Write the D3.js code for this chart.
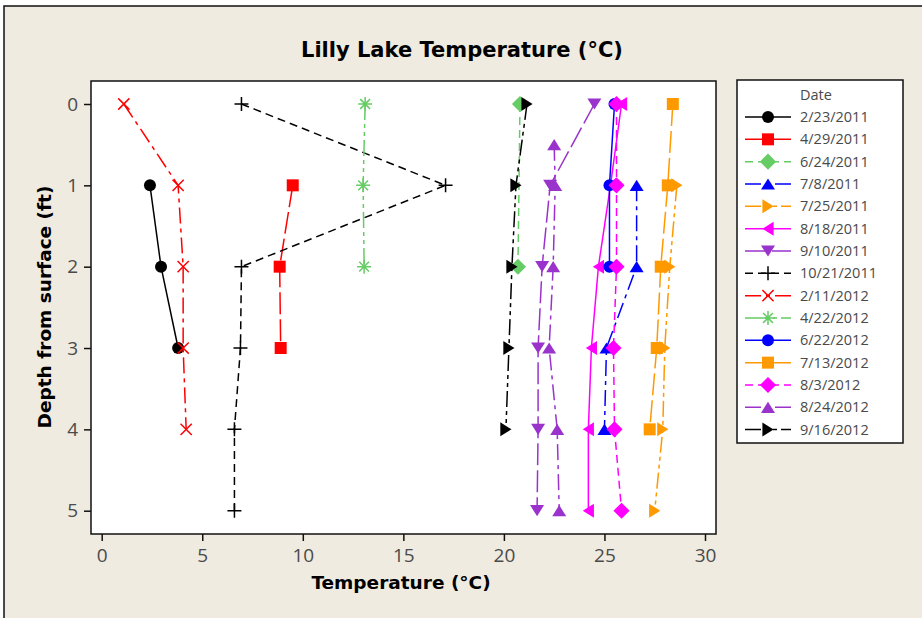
<!DOCTYPE html>
<html>
<head>
<meta charset="utf-8">
<script src="https://cdn.jsdelivr.net/npm/d3@7"></script>
<style>
  body { margin: 0; background: #fff; }
  text { font-family: "Open Sans", sans-serif; }
  .bold { font-family: "DejaVu Sans", Verdana, sans-serif; font-weight: bold; fill: #000; }
</style>
</head>
<body>
<div id="chart"></div>
<script>
// depth levels (ft) shared by all series; null = no reading
var depthLevels = [0, 0.5, 1, 2, 3, 4, 5];

var dates = ['2/23/2011', '4/29/2011', '6/24/2011', '7/8/2011', '7/25/2011',
  '8/18/2011', '9/10/2011', '10/21/2011', '2/11/2012', '4/22/2012',
  '6/22/2012', '7/13/2012', '8/3/2012', '8/24/2012', '9/16/2012'];

var t20110223 = [null, null, 2.4, 2.95, 3.8, null, null];
var t20110429 = [null, null, 9.5, 8.85, 8.9, null, null];
var t20110624 = [20.8, null, null, 20.7, null, null, null];
var t20110708 = [null, null, 26.6, 26.6, 25.1, 25.0, null];
var t20110725 = [null, null, 28.6, 28.25, 28.0, 27.9, 27.5];
var t20110818 = [25.85, null, 25.3, 24.7, 24.35, 24.2, 24.2];
var t20110910 = [24.5, null, 22.3, 21.9, 21.7, 21.7, 21.65];
var t20111021 = [6.95, null, 17.1, 6.95, 6.9, 6.6, 6.6];
var t20120211 = [1.1, null, 3.8, 4.05, 4.05, 4.2, null];
var t20120422 = [13.1, null, 13.0, 13.05, null, null, null];
var t20120622 = [25.5, null, 25.25, 25.25, null, null, null];
var t20120713 = [28.4, null, 28.15, 27.8, 27.6, 27.25, null];
var t20120803 = [25.6, null, 25.6, 25.6, 25.45, 25.5, 25.85];
var t20120824 = [null, 22.5, 22.55, 22.45, 22.25, 22.65, 22.75];
var t20120916 = [21.15, null, 20.6, 20.4, 20.25, 20.1, null];

var xTicks = [0, 5, 10, 15, 20, 25, 30];
var yTicks = [0, 1, 2, 3, 4, 5];

var temps = [t20110223, t20110429, t20110624, t20110708, t20110725,
  t20110818, t20110910, t20111021, t20120211, t20120422,
  t20120622, t20120713, t20120803, t20120824, t20120916];

// styles
var colors = ['#000000', '#ff0000', '#66cc66', '#0000ff', '#ff9900', '#ff00ff', '#9933cc'];
var symbols = ['circle', 'square', 'diamond', 'triUp', 'triRight', 'triLeft', 'triDown', 'plus', 'x', 'asterisk'];
var dashes = [null, '22,5', '8,5', '16,5,4,5', '16,4,4,4,4,4'];

var width = 922, height = 618;
var plot = { left: 91, top: 81, right: 716, bottom: 534 };

var svg = d3.select('#chart')
  .append('svg')
  .attr('width', width)
  .attr('height', height);

svg.append('rect')
  .attr('x', 4).attr('y', 6)
  .attr('width', width + 10).attr('height', height + 10)
  .attr('fill', '#efebe1')
  .attr('stroke', '#111')
  .attr('stroke-width', 1.5);

var x = d3.scaleLinear().domain([0, 30]).range([101.7, 705]);
var y = d3.scaleLinear().domain([0, 5]).range([104, 510.7]);

svg.append('rect')
  .attr('x', plot.left).attr('y', plot.top)
  .attr('width', plot.right - plot.left).attr('height', plot.bottom - plot.top)
  .attr('fill', '#fff')
  .attr('stroke', '#111')
  .attr('stroke-width', 1.5);

var xAxis = svg.append('g')
  .attr('transform', 'translate(0,' + plot.bottom + ')')
  .call(d3.axisBottom(x).tickValues(xTicks).tickFormat(d3.format('d')).tickSize(7).tickPadding(8));
var yAxis = svg.append('g')
  .attr('transform', 'translate(' + plot.left + ',0)')
  .call(d3.axisLeft(y).tickValues(yTicks).tickFormat(d3.format('d')).tickSize(7).tickPadding(6));

[xAxis, yAxis].forEach(function (g) {
  g.select('.domain').remove();
  g.selectAll('.tick line').attr('stroke', '#111').attr('stroke-width', 1.5);
  g.selectAll('.tick text')
    .style('font-family', '"Open Sans", sans-serif')
    .style('font-size', '19px')
    .attr('fill', '#4a4a4a');
});

function markerPath(type, r) {
  var h = r * 0.8;
  switch (type) {
    case 'circle': return d3.symbol(d3.symbolCircle, Math.PI * r * r)();
    case 'square': return 'M' + -r + ',' + -r + 'H' + r + 'V' + r + 'H' + -r + 'Z';
    case 'diamond': return 'M0,' + -r * 1.15 + 'L' + r * 1.15 + ',0L0,' + r * 1.15 + 'L' + -r * 1.15 + ',0Z';
    case 'triUp': return 'M0,' + -h + 'L' + r + ',' + h + 'L' + -r + ',' + h + 'Z';
    case 'triDown': return 'M0,' + h + 'L' + r + ',' + -h + 'L' + -r + ',' + -h + 'Z';
    case 'triRight': return 'M' + h + ',0L' + -h + ',' + -r + 'L' + -h + ',' + r + 'Z';
    case 'triLeft': return 'M' + -h + ',0L' + h + ',' + -r + 'L' + h + ',' + r + 'Z';
    case 'plus': return 'M' + -r + ',0H' + r + 'M0,' + -r + 'V' + r;
    case 'x': return 'M' + -h + ',' + -h + 'L' + h + ',' + h + 'M' + -h + ',' + h + 'L' + h + ',' + -h;
    case 'asterisk':
      var a = r * 0.7;
      return 'M' + -r + ',0H' + r + 'M0,' + -r + 'V' + r +
        'M' + -a + ',' + -a + 'L' + a + ',' + a + 'M' + -a + ',' + a + 'L' + a + ',' + -a;
  }
}

function drawMarker(g, type, color) {
  var stroked = type === 'plus' || type === 'x' || type === 'asterisk';
  return g.append('path')
    .attr('d', markerPath(type, type === 'circle' ? 6 : type === 'square' ? 6 : 7))
    .attr('fill', stroked ? 'none' : color)
    .attr('stroke', stroked ? color : 'none')
    .attr('stroke-width', 1.5);
}

var line = d3.line()
  .x(function (d) { return x(d.t); })
  .y(function (d) { return y(d.depth); });

temps.forEach(function (series, i) {
  var color = colors[i % colors.length];
  var sym = symbols[i % symbols.length];
  var dash = dashes[i % dashes.length];
  var pts = [];
  series.forEach(function (t, j) {
    if (t !== null) pts.push({ t: t, depth: depthLevels[j] });
  });
  var g = svg.append('g');
  g.append('path')
    .attr('d', line(pts))
    .attr('fill', 'none')
    .attr('stroke', color)
    .attr('stroke-width', 1.5)
    .attr('stroke-dasharray', dash);
  pts.forEach(function (p) {
    drawMarker(g.append('g').attr('transform', 'translate(' + x(p.t) + ',' + y(p.depth) + ')'), sym, color);
  });
});

// titles
svg.append('text')
  .attr('class', 'bold')
  .attr('x', 462).attr('y', 57)
  .attr('text-anchor', 'middle')
  .style('font-size', '21px')
  .text('Lilly Lake Temperature (°C)');

svg.append('text')
  .attr('class', 'bold')
  .attr('x', 401).attr('y', 589)
  .attr('text-anchor', 'middle')
  .style('font-size', '18.5px')
  .text('Temperature (°C)');

svg.append('text')
  .attr('class', 'bold')
  .attr('transform', 'translate(51,307) rotate(-90)')
  .attr('text-anchor', 'middle')
  .style('font-size', '18.5px')
  .text('Depth from surface (ft)');

// legend
var legend = svg.append('g');
legend.append('rect')
  .attr('x', 737).attr('y', 80)
  .attr('width', 166).attr('height', 363)
  .attr('fill', '#fff')
  .attr('stroke', '#111')
  .attr('stroke-width', 1.5);
legend.append('text')
  .attr('x', 800).attr('y', 100)
  .style('font-size', '14.5px')
  .attr('fill', '#4a4a4a')
  .text('Date');

dates.forEach(function (d, i) {
  var yy = 117 + i * 22.33;
  var color = colors[i % colors.length];
  var row = legend.append('g');
  row.append('line')
    .attr('x1', 745).attr('x2', 791)
    .attr('y1', yy).attr('y2', yy)
    .attr('stroke', color)
    .attr('stroke-width', 1.5)
    .attr('stroke-dasharray', dashes[i % dashes.length]);
  drawMarker(row.append('g').attr('transform', 'translate(768,' + yy + ')'), symbols[i % symbols.length], color);
  row.append('text')
    .attr('x', 800).attr('y', yy + 5)
    .style('font-size', '14.5px')
    .attr('fill', '#4a4a4a')
    .text(d);
});
</script>
</body>
</html>
